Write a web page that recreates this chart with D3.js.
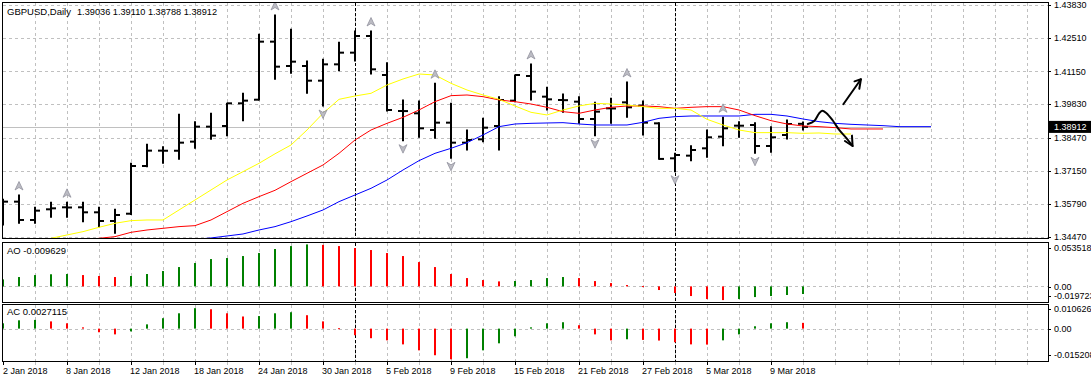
<!DOCTYPE html>
<html><head><meta charset="utf-8">
<script src="https://cdn.jsdelivr.net/npm/d3@7"></script>
<style>
body{margin:0;background:#fff}
svg{display:block}
text{font-family:"Liberation Sans",Arial,sans-serif;font-size:9px;fill:#000}
</style>
</head><body><svg id="c" width="1091" height="382"></svg>
<script>
// ---------- data ----------
const titleName = "GBPUSD,Daily";
const titleQuote = "1.39036 1.39110 1.38788 1.38912";
const dateLabels = ["2 Jan 2018","8 Jan 2018","12 Jan 2018","18 Jan 2018","24 Jan 2018","30 Jan 2018","5 Feb 2018","9 Feb 2018","15 Feb 2018","21 Feb 2018","27 Feb 2018","5 Mar 2018","9 Mar 2018"];
const dateIdx = [0,4,8,12,16,20,24,28,32,36,40,44,48];
const monthStartIdx = [22,42];

const open  = [1.35920,1.35896,1.35157,1.35587,1.35668,1.35668,1.35466,1.35116,1.35410,1.37335,1.37954,1.37950,1.38317,1.38922,1.38949,1.39863,1.40010,1.42351,1.41369,1.41369,1.40777,1.41436,1.41907,1.42579,1.41006,1.39554,1.39460,1.38787,1.39083,1.38276,1.38411,1.38949,1.39971,1.40966,1.40132,1.39998,1.39930,1.39231,1.39661,1.39903,1.39769,1.39056,1.37644,1.37752,1.38048,1.38518,1.38962,1.38989,1.38142,1.38586,1.39036];
const high  = [1.35990,1.36165,1.35668,1.35869,1.35869,1.35869,1.35668,1.35587,1.37443,1.38209,1.38115,1.39419,1.39124,1.39460,1.39863,1.40267,1.42647,1.43427,1.42848,1.41571,1.41638,1.42324,1.42781,1.42781,1.41504,1.39998,1.39957,1.40670,1.39863,1.38787,1.39258,1.40132,1.41006,1.41450,1.40509,1.40240,1.40132,1.39903,1.40065,1.40724,1.39957,1.39083,1.37846,1.38155,1.38787,1.39298,1.39124,1.39083,1.38922,1.39191,1.39110];
const low   = [1.34955,1.35022,1.35022,1.35264,1.35264,1.35089,1.34888,1.34619,1.35380,1.37308,1.37443,1.37604,1.38048,1.38411,1.38559,1.39164,1.39998,1.40831,1.41073,1.40267,1.39756,1.41181,1.41571,1.41046,1.39554,1.38357,1.38492,1.38451,1.37644,1.37981,1.38317,1.37981,1.39930,1.39998,1.39594,1.39500,1.39056,1.38559,1.39056,1.39298,1.38586,1.37604,1.37106,1.37550,1.37685,1.38155,1.38492,1.37846,1.37886,1.38424,1.38788];
const close = [1.35896,1.35157,1.35533,1.35627,1.35660,1.35466,1.35116,1.35358,1.37335,1.37954,1.37950,1.38276,1.38922,1.38559,1.39863,1.39971,1.42351,1.41342,1.41544,1.40777,1.41436,1.41907,1.42579,1.41235,1.39594,1.39550,1.38855,1.39083,1.38276,1.38384,1.38881,1.39998,1.41006,1.40334,1.40024,1.39990,1.39231,1.39527,1.39655,1.39702,1.39083,1.37620,1.37779,1.37981,1.38492,1.38855,1.38960,1.38142,1.38492,1.39029,1.38912];

const lipsStart = 2;
const lips  = [1.34283,1.34417,1.34552,1.34686,1.34861,1.35022,1.35130,1.35157,1.35157,1.35560,1.35963,1.36367,1.36770,1.37106,1.37443,1.37826,1.38182,1.38787,1.39460,1.40024,1.40159,1.40267,1.40603,1.40845,1.41046,1.41006,1.40670,1.40401,1.40199,1.40024,1.39756,1.39500,1.39393,1.39594,1.39756,1.39863,1.39836,1.39796,1.39729,1.39661,1.39661,1.39594,1.39218,1.38989,1.38787,1.38680,1.38680,1.38680,1.38653,1.38667,1.38626,1.38626];
const teethStart = 5;
const teeth = [1.34350,1.34417,1.34484,1.34659,1.34753,1.34820,1.34888,1.34928,1.35157,1.35493,1.35829,1.36098,1.36354,1.36703,1.37040,1.37376,1.37846,1.38384,1.38787,1.39056,1.39298,1.39594,1.39930,1.40172,1.40199,1.40132,1.39998,1.39930,1.39836,1.39702,1.39527,1.39460,1.39594,1.39702,1.39756,1.39756,1.39729,1.39661,1.39702,1.39729,1.39729,1.39594,1.39366,1.39164,1.39029,1.38949,1.38922,1.38881,1.38828,1.38828,1.38828];
const jawStart = 12;
const jaw   = [1.34377,1.34431,1.34511,1.34592,1.34753,1.34888,1.35089,1.35318,1.35560,1.35896,1.36165,1.36434,1.36770,1.37174,1.37550,1.37846,1.38048,1.38276,1.38586,1.38922,1.39029,1.39056,1.39070,1.39083,1.39029,1.38989,1.38989,1.38989,1.39097,1.39258,1.39325,1.39352,1.39352,1.39352,1.39352,1.39419,1.39419,1.39352,1.39231,1.39124,1.39056,1.39016,1.38989,1.38962,1.38922,1.38922,1.38922];

const fractalUp   = [1,4,17,23,27,33,39,45];
const fractalDown = [20,25,28,37,42,47];

const ao = [0.0088,0.0118,0.0143,0.0153,0.0156,0.0143,0.0131,0.0118,0.0131,0.0156,0.0194,0.0244,0.0295,0.0345,0.0358,0.0383,0.0421,0.0472,0.0509,0.0530,0.0524,0.0509,0.0484,0.0459,0.0421,0.0383,0.0307,0.0244,0.0156,0.0105,0.0080,0.0063,0.0068,0.0080,0.0105,0.0118,0.0105,0.0067,0.0042,0.0017,0.0004,-0.0046,-0.0084,-0.0122,-0.0160,-0.0173,-0.0160,-0.0135,-0.0122,-0.0109,-0.009629];
const ac = [0.0025,0.0039,0.0041,0.0034,0.0025,0.0006,-0.0017,-0.0027,-0.0013,0.0020,0.0049,0.0072,0.0096,0.0091,0.0072,0.0057,0.0059,0.0072,0.0077,0.0063,0.0034,0.0002,-0.0031,-0.0045,-0.0055,-0.0074,-0.0102,-0.0125,-0.0144,-0.0139,-0.0102,-0.0069,-0.0036,0.0006,0.0025,0.0030,0.0016,-0.0027,-0.0055,-0.0050,-0.0053,-0.0056,-0.0064,-0.0074,-0.0075,-0.0055,-0.0027,0.0011,0.0025,0.0030,0.0027115];

const priceTicks = [1.43830,1.42510,1.41150,1.39830,1.38470,1.37150,1.35790,1.34470];
const priceTickLabels = ["1.43830","1.42510","1.41150","1.39830","1.38470","1.37150","1.35790","1.34470"];
const bidPrice = 1.38912, bidLabel = "1.38912";
const aoRange = [-0.019723, 0.053518], aoRangeLabels = ["-0.019723","0.053518"], aoName = "AO -0.009629";
const acRange = [-0.015208, 0.010626], acRangeLabels = ["-0.015208","0.010626"], acName = "AC 0.0027115";

// hand-drawn annotation (bar index, price)
const annCurve = [[50.3,1.39030],[50.7,1.39151],[51.0,1.39450],[51.2,1.39560],[51.45,1.39473],[51.85,1.39180],[52.25,1.38800],[52.7,1.38470],[53.1,1.38141]];
const annCurveHead = [[53.06,1.38560],[53.1,1.38141],[52.62,1.38343]];
const annStraight = [[52.52,1.39824],[53.62,1.40833]];
const annStraightHead = [[53.22,1.40750],[53.62,1.40833],[53.52,1.40450]];

// ---------- layout ----------
const svg = d3.select("#c");
const L = 2, R = 1048;
const main = {top:2, bot:238};
const aoP = {top:242, bot:302};
const acP = {top:304, bot:361};

const x = d3.scaleLinear().domain([0,1]).range([3,19]);
const y = d3.scaleLinear().domain([1.34470,1.43830]).range([237,5]);
const yAO = d3.scaleLinear().domain(aoRange).range([302,244]);
const yAC = d3.scaleLinear().domain(acRange).range([361,306]);

svg.append("rect").attr("width",1091).attr("height",382).attr("fill","#fff");

const defs = svg.append("defs");
defs.append("clipPath").attr("id","cm").append("rect").attr("x",L+1).attr("y",main.top+1).attr("width",R-L-1).attr("height",main.bot-main.top-1);

const gridIdx = d3.range(2,65,2);
function vgrid(p){
  svg.append("g").selectAll("line").data(gridIdx).join("line")
    .attr("x1",d=>x(d)+0.5).attr("x2",d=>x(d)+0.5).attr("y1",p.top+1).attr("y2",p.bot)
    .attr("stroke","#c0c0c0").attr("stroke-dasharray","3,3");
}
vgrid(main); vgrid(aoP); vgrid(acP);

svg.append("g").selectAll("line").data(priceTicks).join("line")
  .attr("x1",L+1).attr("x2",R).attr("y1",d=>Math.round(y(d))+0.5).attr("y2",d=>Math.round(y(d))+0.5)
  .attr("stroke","#c0c0c0").attr("stroke-dasharray","3,3");
[[yAO,aoP],[yAC,acP]].forEach(([s,p])=>{
  svg.append("line").attr("x1",L+1).attr("x2",R).attr("y1",Math.round(s(0))+0.5).attr("y2",Math.round(s(0))+0.5)
   .attr("stroke","#c0c0c0").attr("stroke-dasharray","3,3");
});

[main,aoP,acP].forEach(p=>{
  svg.append("g").selectAll("line").data(monthStartIdx).join("line")
    .attr("x1",d=>x(d)+0.5).attr("x2",d=>x(d)+0.5).attr("y1",p.top+1).attr("y2",p.bot)
    .attr("stroke","#000").attr("stroke-dasharray","3,2");
});

svg.append("line").attr("x1",L+1).attr("x2",x(jawStart+jaw.length-1)).attr("y1",Math.round(y(bidPrice))+0.5).attr("y2",Math.round(y(bidPrice))+0.5)
  .attr("stroke","#c0c0c0");

const gm = svg.append("g").attr("clip-path","url(#cm)");

const idx = d3.range(open.length);
const gb = gm.append("g").attr("stroke","#000").attr("stroke-width",2);
gb.selectAll("line.v").data(idx).join("line").attr("class","v")
  .attr("x1",i=>x(i)).attr("x2",i=>x(i)).attr("y1",i=>y(high[i])-0.5).attr("y2",i=>y(low[i])+0.5);
gb.selectAll("line.o").data(idx).join("line").attr("class","o")
  .attr("x1",i=>x(i)-5).attr("x2",i=>x(i)).attr("y1",i=>y(open[i])).attr("y2",i=>y(open[i]));
gb.selectAll("line.c").data(idx).join("line").attr("class","c")
  .attr("x1",i=>x(i)).attr("x2",i=>x(i)+5).attr("y1",i=>y(close[i])).attr("y2",i=>y(close[i]));

const ln = d3.line().x(d=>x(d[0])).y(d=>y(d[1]));
[[jaw,jawStart,"#0000ff"],[teeth,teethStart,"#ff0000"],[lips,lipsStart,"#ffff00"]].forEach(([arr,s,c])=>{
  gm.append("path").attr("d",ln(arr.map((v,k)=>[s+k,v]))).attr("fill","none").attr("stroke",c).attr("stroke-width",1);
});

const upPath = "M0,-4.5 L4,4 L0,1.5 L-4,4 Z";
const dnPath = "M0,4.5 L4,-4 L0,-1.5 L-4,-4 Z";
gm.append("g").selectAll("path").data(fractalUp).join("path")
  .attr("transform",i=>`translate(${x(i)},${y(high[i])-9})`).attr("d",upPath)
  .attr("fill","#bcbcc4").attr("stroke","#8a8a96").attr("stroke-width",0.7);
gm.append("g").selectAll("path").data(fractalDown).join("path")
  .attr("transform",i=>`translate(${x(i)},${y(low[i])+8})`).attr("d",dnPath)
  .attr("fill","#bcbcc4").attr("stroke","#8a8a96").attr("stroke-width",0.7);

const la = d3.line().x(d=>x(d[0])).y(d=>y(d[1]));
const lc = d3.line().x(d=>x(d[0])).y(d=>y(d[1])).curve(d3.curveCatmullRom);
const ga = gm.append("g").attr("fill","none").attr("stroke","#000").attr("stroke-width",2).attr("stroke-linecap","round").attr("stroke-linejoin","round");
ga.append("path").attr("d",lc(annCurve));
ga.append("path").attr("d",la(annCurveHead));
ga.append("path").attr("d",la(annStraight));
ga.append("path").attr("d",la(annStraightHead));

function hist(vals, s){
  svg.append("g").selectAll("rect").data(vals).join("rect")
    .attr("x",(d,i)=>x(i)-1).attr("width",2)
    .attr("y",d=>Math.min(s(d),s(0))).attr("height",d=>Math.max(1,Math.abs(s(d)-s(0))))
    .attr("fill",(d,i)=> (i===0 || d>vals[i-1]) ? "#008000" : "#ff0000");
}
hist(ao,yAO); hist(ac,yAC);

[main,aoP,acP].forEach(p=>{
  svg.append("rect").attr("x",L+0.5).attr("y",p.top+0.5).attr("width",R-L).attr("height",p.bot-p.top)
    .attr("fill","none").attr("stroke","#000");
});

const ax = svg.append("g");
ax.selectAll("line").data(priceTicks).join("line")
  .attr("x1",R).attr("x2",R+3).attr("y1",d=>Math.round(y(d))+0.5).attr("y2",d=>Math.round(y(d))+0.5).attr("stroke","#000");
ax.selectAll("text").data(priceTicks).join("text")
  .attr("x",R+6).attr("y",d=>y(d)).attr("dy","0.35em").text((d,i)=>priceTickLabels[i]);
svg.append("rect").attr("x",R+1).attr("y",y(bidPrice)-6).attr("width",1091-R-1).attr("height",12).attr("fill","#000");
svg.append("text").attr("x",R+6).attr("y",y(bidPrice)).attr("dy","0.35em").style("fill","#fff").text(bidLabel);

function subAxis(s, range, labels, topOff, botOff){
  const g = svg.append("g");
  g.append("text").attr("x",R+6).attr("y",s(range[1])+topOff).attr("dy","0.35em").text(labels[1]);
  g.append("text").attr("x",R+6).attr("y",s(0)+0.5).attr("dy","0.35em").text("0.00");
  g.append("text").attr("x",R+6).attr("y",s(range[0])+botOff).attr("dy","0.35em").text(labels[0]);
  [s(range[1])+topOff, s(0)+0.5, s(range[0])+botOff].forEach(v=>{
    g.append("line").attr("x1",R).attr("x2",R+3).attr("y1",Math.round(v)+0.5).attr("y2",Math.round(v)+0.5).attr("stroke","#000");
  });
}
subAxis(yAO, aoRange, aoRangeLabels, 4, -6.5);
subAxis(yAC, acRange, acRangeLabels, 3, -6);

svg.append("g").selectAll("line").data(gridIdx.concat([0])).join("line")
  .attr("x1",d=>x(d)+0.5).attr("x2",d=>x(d)+0.5).attr("y1",acP.bot+1).attr("y2",acP.bot+4)
  .attr("stroke",d=>dateIdx.includes(d)?"#000":"#c0c0c0");
svg.append("g").selectAll("text").data(dateIdx).join("text")
  .attr("x",d=>Math.max(3,x(d)-1)).attr("y",374).text((d,i)=>dateLabels[i]);

svg.append("text").attr("x",7).attr("y",15).style("font-size","9.6px")
  .attr("textLength",64).attr("lengthAdjust","spacingAndGlyphs").text(titleName);
svg.append("text").attr("x",77).attr("y",15).style("font-size","9.6px")
  .attr("textLength",140).attr("lengthAdjust","spacingAndGlyphs").text(titleQuote);
svg.append("text").attr("x",7).attr("y",254).style("font-size","9.5px")
  .attr("textLength",59).attr("lengthAdjust","spacingAndGlyphs").text(aoName);
svg.append("text").attr("x",7).attr("y",315).style("font-size","9.5px")
  .attr("textLength",60).attr("lengthAdjust","spacingAndGlyphs").text(acName);
</script>
</body></html>
